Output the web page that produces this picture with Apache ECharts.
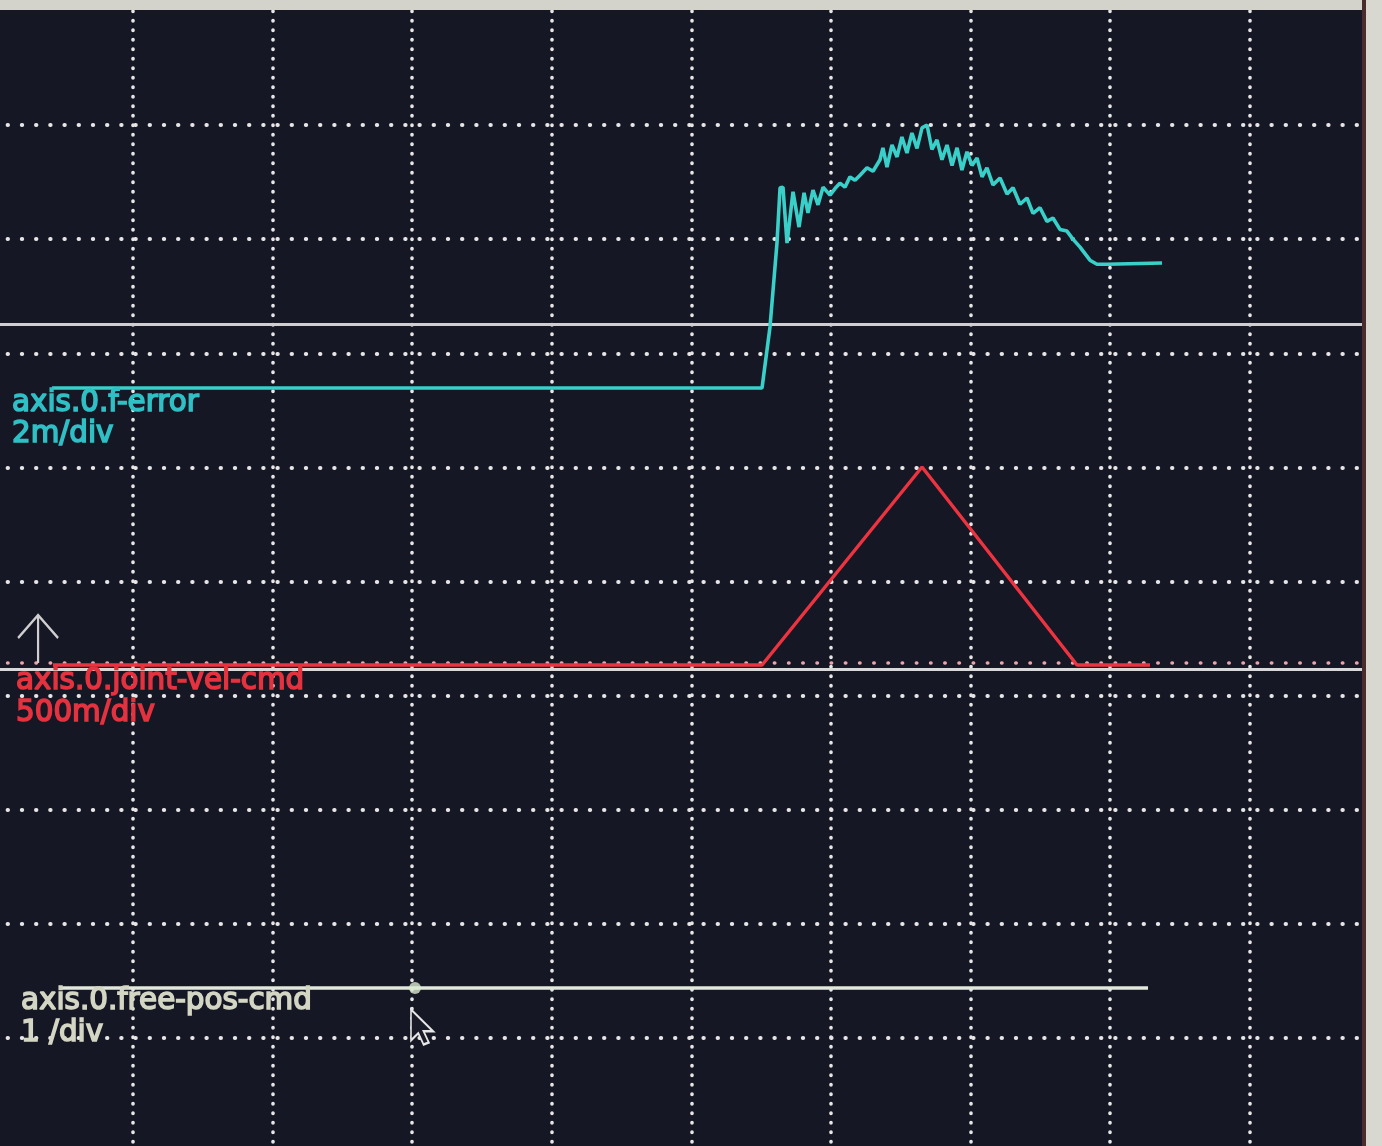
<!DOCTYPE html>
<html>
<head>
<meta charset="utf-8">
<script src="https://cdn.jsdelivr.net/npm/echarts@6/dist/echarts.min.js"></script>
<style>
html,body{margin:0;padding:0;background:#161724;}
#c{width:1382px;height:1146px;}
</style>
</head>
<body>
<div id="c"></div>
<script>
// ---- time in screen divisions (halscope: 10 div across) ----
const fErrorTime = [0.420,5.506,5.563,5.613,5.635,5.656,5.685,5.728,5.771,5.807,5.835,5.871,5.907,5.943,5.993,
  6.030,6.064,6.100,6.136,6.172,6.208,6.258,6.301,6.351,6.372,6.401,6.437,6.473,6.508,6.544,6.580,6.616,6.652,6.688,6.723,6.759,
  6.795,6.831,6.867,6.903,6.938,6.974,7.010,7.046,7.082,7.117,7.160,7.211,7.261,7.304,7.354,7.404,7.447,7.497,
  7.547,7.590,7.640,7.690,7.733,7.784,7.855,7.905,7.977,8.371];
const fErrorValue = [0,0,0.00107,0.00254,0.00351,0.00352,0.00254,0.00344,0.00282,0.00342,0.00307,0.00347,0.00321,0.00352,0.00338,
  0.00350,0.00359,0.00352,0.00370,0.00364,0.00373,0.00386,0.00380,0.00400,0.00421,0.00387,0.00426,0.00405,0.00440,0.00412,0.00447,0.00420,0.00456,0.00461,0.00418,0.00435,
  0.00400,0.00426,0.00390,0.00421,0.00382,0.00414,0.00390,0.00403,0.00370,0.00386,0.00356,0.00368,0.00340,0.00351,0.00322,0.00333,0.00306,0.00316,
  0.00292,0.00298,0.00278,0.00275,0.00261,0.00247,0.00224,0.00217,0.00217,0.00219];

const velTime  = [0.427, 5.506, 6.652, 7.762, 8.285];
const velValue = [0, 0, 0.868, 0, 0];

const posTime  = [0.477, 8.271];
const posValue = [0, 0];

const cursorTime  = [3.02];
const cursorValue = [0];

const triggerTime = [0.32];
const divTicks = [0,1,2,3,4,5,6,7,8,9,10];

// channel settings: label, scale per division, offset (divisions from bottom)
const chNames   = ['axis.0.f-error', 'axis.0.joint-vel-cmd', 'axis.0.free-pos-cmd'];
const chPerDiv  = ['2m/div', '500m/div', '1 /div'];
const chScale   = [0.002, 0.5, 1];
const chOffset  = [6.696, 4.268, 1.437];
const fErrorRefLevel = [0.00112];   // solid reference line in f-error units
const velRefLevel    = [-0.0175];   // solid reference line in vel units
const velDotLevel    = [0.012];     // dotted row at the vel zero

// ---------------------------------------------------------
const zip = (a,b) => a.map((v,i)=>[v,b[i]]);
const nDiv = divTicks.length - 1;
const chColors = ['#38d0c9', '#ee3340', '#e2e8dc'];
const labColors = ['#2fc0c6', '#e5323f', '#d4d6c4'];
const labPos = [[12,403,434],[16,681,713],[21,1001,1033]];
const font = '29.4px "DejaVu Sans"';

const chart = echarts.init(document.getElementById('c'), null, {renderer:'canvas'});

const yAxes = [{
  type:'value', min:divTicks[0], max:divTicks[nDiv], interval:1,
  axisLine:{show:false}, axisTick:{show:false}, axisLabel:{show:false},
  splitLine:{show:true, showMinLine:false, showMaxLine:false,
    lineStyle:{color:'#e6e6e6', width:4, type:[0.4,13.8], cap:'round'}}
}];
chScale.forEach((s,i)=>{
  yAxes.push({type:'value', show:false, min:-chOffset[i]*s, max:(nDiv-chOffset[i])*s, splitLine:{show:false}});
});

const graphics = [];
chNames.forEach((n,i)=>{
  graphics.push({type:'text', z:50, style:{x:labPos[i][0], y:labPos[i][1], text:n, font:font, fill:labColors[i],
    stroke:labColors[i], lineWidth:1.6, verticalAlign:'middle'}});
  graphics.push({type:'text', z:50, style:{x:labPos[i][0], y:labPos[i][2], text:chPerDiv[i], font:font, fill:labColors[i],
    stroke:labColors[i], lineWidth:1.6, verticalAlign:'middle'}});
});
// screen bezel
graphics.push({type:'rect', z:100, shape:{x:0,y:0,width:1382,height:10}, style:{fill:'#d3d3cb'}});
graphics.push({type:'rect', z:100, shape:{x:1362,y:0,width:4,height:1146}, style:{fill:'#4a2c2e'}});
graphics.push({type:'rect', z:100, shape:{x:1366,y:0,width:16,height:1146}, style:{fill:'#d8d8d0'}});

const ml = (levels, style) => ({silent:true, precision:8, symbol:['none','none'], label:{show:false},
  lineStyle:style, data:levels.map(v=>({yAxis:v}))});

const option = {
  backgroundColor:'#161724',
  animation:false,
  grid:{left:-6.6, right:-7.4, top:11, bottom:-6, containLabel:false, outerBoundsMode:'none'},
  xAxis:{type:'value', min:divTicks[0], max:divTicks[nDiv], interval:1,
    axisLine:{show:false}, axisTick:{show:false}, axisLabel:{show:false},
    splitLine:{show:true, showMinLine:false, showMaxLine:false,
      lineStyle:{color:'#e6e6e6', width:3.6, type:[0.4,9.1], cap:'round'}}},
  yAxis:yAxes,
  graphic:graphics,
  series:[
    { // f-error
      type:'line', yAxisIndex:1, data:zip(fErrorTime,fErrorValue), showSymbol:false, symbol:'none',
      lineStyle:{color:chColors[0], width:3.6}, z:5,
      markLine:ml(fErrorRefLevel, {type:'solid', color:'#cfcfd3', width:3})
    },
    { // red dotted zero row
      type:'line', yAxisIndex:2, data:[], z:3,
      markLine:ml(velDotLevel, {type:[0.4,13.8], cap:'round', color:'#f0a3aa', width:3.6})
    },
    { // joint-vel-cmd
      type:'line', yAxisIndex:2, data:zip(velTime,velValue), showSymbol:false, symbol:'none',
      lineStyle:{color:chColors[1], width:3.4}, z:6,
      markLine:ml(velRefLevel, {type:'solid', color:'#d8d8d8', width:3}),
      markPoint:{silent:true, label:{show:false},
        data:triggerTime.map(t=>({coord:[t,0], symbol:'path://M20,48 L20,0 M0,23 L20,0 L40,23',
          symbolSize:[40,48], symbolOffset:[0,-26], symbolKeepAspect:false,
          itemStyle:{color:'none', borderColor:'#cfcfcf', borderWidth:2.4}}))}
    },
    { // free-pos-cmd
      type:'line', yAxisIndex:3, data:zip(posTime,posValue), showSymbol:false, symbol:'none',
      lineStyle:{color:chColors[2], width:3.4}, z:6,
      markPoint:{silent:true, label:{show:false},
        data:cursorTime.map((t,i)=>({coord:[t,cursorValue[i]], symbol:'path://M0,0 L0,30 L7,23 L12,34 L17,32 L12,21 L21,21 Z',
          symbolSize:[22,35], symbolOffset:[7,39],
          itemStyle:{color:'#1a1b28', borderColor:'#e6e6e6', borderWidth:2}}))}
    },
    { // cursor dot
      type:'scatter', yAxisIndex:3, data:zip(cursorTime,cursorValue), symbol:'circle', symbolSize:12,
      itemStyle:{color:'#d9e8cf'}, z:8, silent:true
    }
  ]
};
chart.setOption(option);
</script>
</body>
</html>
